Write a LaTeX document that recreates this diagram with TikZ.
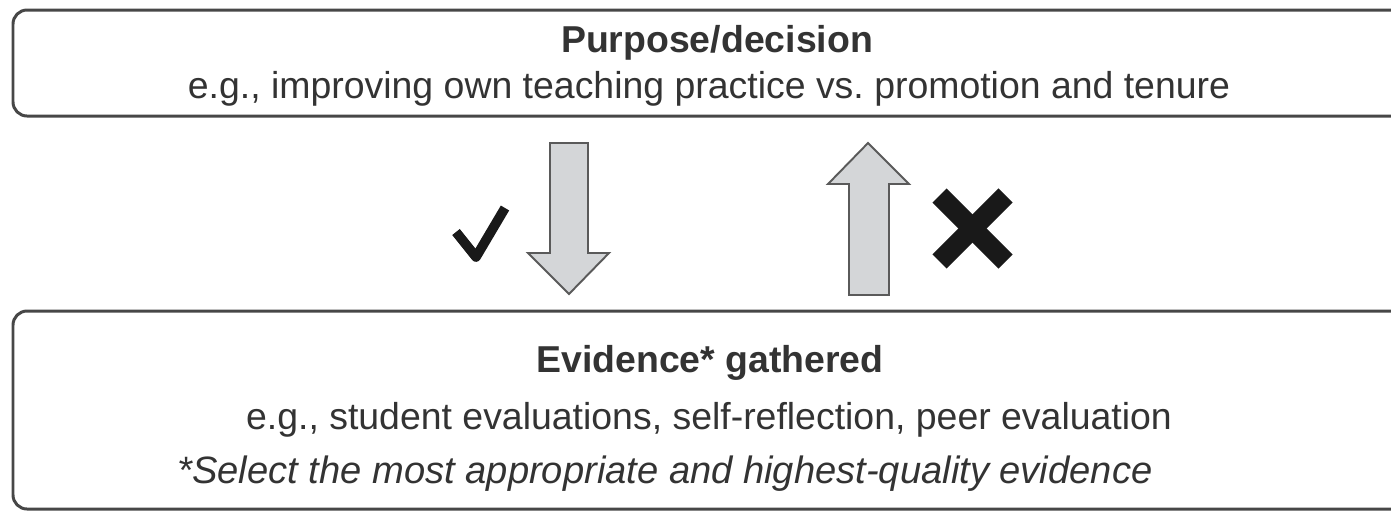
\documentclass[tikz,border=0pt]{standalone}
\usepackage{fontspec}
\setmainfont{Liberation Sans}
\frenchspacing
\definecolor{boxline}{HTML}{474747}
\definecolor{txt}{HTML}{333333}
\definecolor{arrowfill}{HTML}{D4D6D8}
\definecolor{arrowline}{HTML}{5A5A5A}
\tikzset{
  panel/.style={draw=boxline,line width=1.7pt,rounded corners=8pt,fill=white},
  label/.style={text=txt,font=\fontsize{21.3}{25}\selectfont,inner sep=0pt,anchor=base},
  blockarrow/.style={draw=arrowline,fill=arrowfill,line width=1.1pt,line join=miter}
}
\begin{document}
\begin{tikzpicture}[x=0.02cm,y=-0.02cm]
\path[use as bounding box,clip] (0,0) rectangle (1391,512);
\fill[white] (0,0) rectangle (1391,512);

% the two boxes
\draw[panel] (13,10) rectangle (1420,116);
\draw[panel] (13,311) rectangle (1420,509);

\node[label] (purpose) at (717,52) {\bfseries Purpose/decision};
\node[label] (purposeeg) at (709,98) {e.g., improving own teaching practice vs. promotion and tenure};

\node[label] (evidence) at (710,372) {\bfseries Evidence* gathered};
\node[label] (evidenceeg) at (709,429) {e.g., student evaluations, self-reflection, peer evaluation};
\node[label,font=\fontsize{21.7}{25}\selectfont] (select) at (665,483) {\itshape *Select the most appropriate and highest-quality evidence};

% down arrow
\coordinate (down) at (569,143);
\draw[blockarrow] (550,143) -- (588,143) -- (588,253) -- (609,253) -- (569,294)
  -- (528,253) -- (550,253) -- cycle;
% up arrow
\coordinate (up) at (868,295);
\draw[blockarrow] (849,295) -- (889,295) -- (889,184) -- (909,184) -- (868,143)
  -- (828,184) -- (849,184) -- cycle;

% tick and cross
\draw[line width=5.5pt,black!90,line join=round] (456,232) -- (476,257) -- (505,208);
\draw[line width=11.3pt,black!90] (939.5,195.5) -- (1005.5,261.5);
\draw[line width=11.3pt,black!90] (1005.5,195.5) -- (939.5,261.5);
\end{tikzpicture}
\end{document}
